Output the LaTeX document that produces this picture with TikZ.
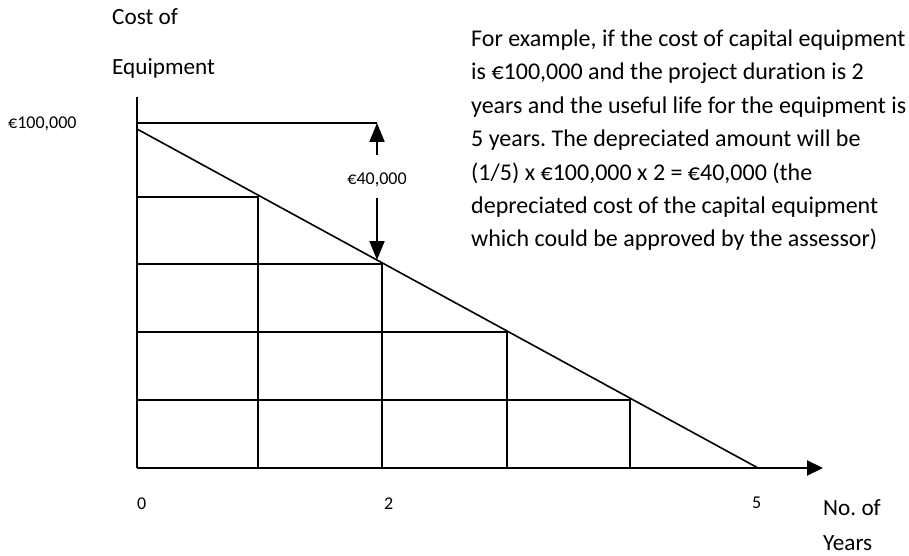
\documentclass[tikz,border=0pt]{standalone}
\usepackage{fontspec}
\setmainfont{Carlito}[Ligatures=NoCommon]
\usetikzlibrary{arrows.meta}
\frenchspacing
\begin{document}
\begin{tikzpicture}[x=1pt,y=-1pt,
  axis/.style={line width=2pt},
  gridline/.style={line width=1.6pt},
  dimarrow/.style={line width=2pt,-{Triangle[length=19pt,width=15pt]}},
  big/.style={font=\fontsize{23.2}{26}\selectfont, inner sep=0pt},
  para/.style={font=\fontsize{24}{28}\selectfont, inner sep=0pt},
  small/.style={font=\fontsize{18}{22}\selectfont, inner sep=0pt}]
\useasboundingbox (0,0) rectangle (909,556);
% axes
\coordinate (O) at (137,468);
\coordinate (Ytop) at (137,97);
\coordinate (Xend) at (823,468);
\draw[axis] (Ytop) -- (O);
\draw[axis,-{Triangle[length=16pt,width=15pt]}] (O) -- (Xend);
% top line and diagonal
\coordinate (T0) at (137,123);
\coordinate (T1) at (377,123);
\draw[gridline] (T0) -- (T1);
\coordinate (D0) at (137,129);
\coordinate (D5) at (758,468);
\draw[gridline] (D0) -- (D5);
% steps
\draw[gridline] (137,197) -- (258,197) -- (258,468);
\draw[gridline] (137,264) -- (382,264) -- (382,468);
\draw[gridline] (137,332) -- (507,332) -- (507,468);
\draw[gridline] (137,400) -- (630,400) -- (630,468);
% dimension arrows
\coordinate (A1s) at (377,155);
\coordinate (A2s) at (377,198);
\coordinate (A2e) at (377,260);
\draw[dimarrow] (A1s) -- (T1);
\draw[dimarrow] (A2s) -- (A2e);
% labels
\node[small,anchor=base] (l40) at (377,184) {€40,000};
\node[small,anchor=base west] (l100) at (8,129) {€100,000};
\node[small,anchor=base west] (t0) at (137,509) {0};
\node[small,anchor=base west] (t2) at (384,509) {2};
\node[small,anchor=base west] (t5) at (752,508) {5};
\node[big,anchor=base west] (c1) at (112,25) {Cost of};
\node[big,anchor=base west] (c2) at (112,75) {Equipment};
\node[big,anchor=base west] (n1) at (823,515) {No. of};
\node[big,anchor=base west] (n2) at (823,550) {Years};
\node[para,anchor=base west] (p1) at (471,46.7) {For example, if the cost of capital equipment};
\node[para,anchor=base west] (p2) at (471,80) {is €100,000 and the project duration is 2};
\node[para,anchor=base west] (p3) at (471,113.3) {years and the useful life for the equipment is};
\node[para,anchor=base west] (p4) at (471,146.7) {5 years. The depreciated amount will be};
\node[para,anchor=base west] (p5) at (471,180) {(1/5) x €100,000 x 2 = €40,000 (the};
\node[para,anchor=base west] (p6) at (471,213.3) {depreciated cost of the capital equipment};
\node[para,anchor=base west] (p7) at (471,246.7) {which could be approved by the assessor)};
\end{tikzpicture}
\end{document}
